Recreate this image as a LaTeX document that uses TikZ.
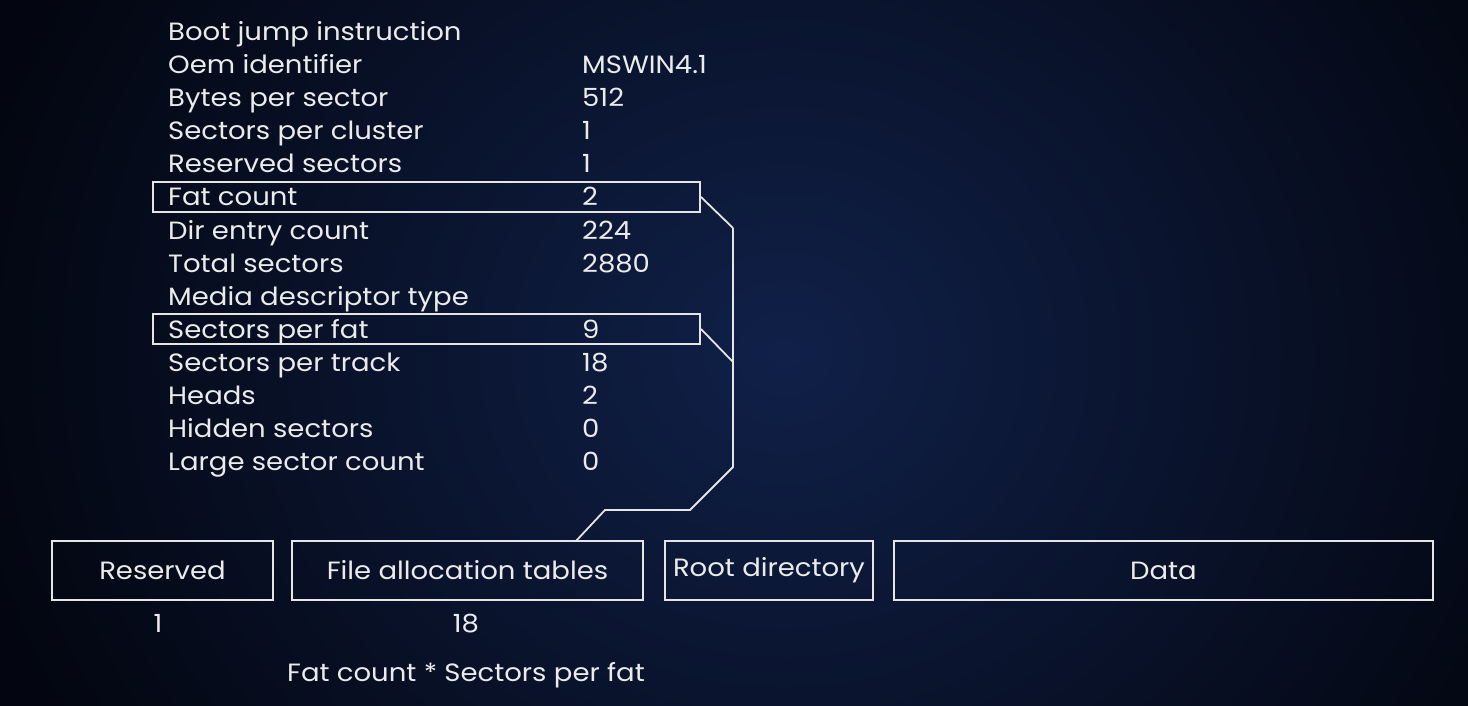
\documentclass[tikz,border=0pt]{standalone}
\usepackage{fontspec}
\setmainfont[FakeStretch=1.1]{Poppins}
\begin{document}
\begin{tikzpicture}[x=1pt,y=-1pt,
  lbl/.style={anchor=base west, inner sep=0pt, text=white!92!black, font=\fontsize{25}{25}\selectfont},
  val/.style={lbl},
  hbox/.style={draw=white!90!black, line width=2pt, minimum width=547pt, minimum height=30pt, inner sep=0pt},
  part/.style={draw=white!90!black, line width=2pt, inner sep=0pt, minimum height=59pt, text=white!92!black, font=\fontsize{25}{25}\selectfont},
  conn/.style={draw=white!90!black, line width=1.8pt},
  ctext/.style={anchor=base, inner sep=0pt, text=white!92!black, font=\fontsize{25}{25}\selectfont}]
\definecolor{bgin}{RGB}{16,32,72}
\definecolor{bgout}{RGB}{3,6,16}
\useasboundingbox (0,0) rectangle (1468,706);
\begin{scope}
\clip (0,0) rectangle (1468,706);
\shade[inner color=bgin, outer color=bgout] (-50,-400) rectangle (1618,1106);
\end{scope}
% rows
\node[lbl] (l1) at (168,41) {Boot jump instruction};
\node[lbl] (l2) at (168,74) {Oem identifier};
\node[lbl] (l3) at (168,107) {Bytes per sector};
\node[lbl] (l4) at (168,140) {Sectors per cluster};
\node[lbl] (l5) at (168,173) {Reserved sectors};
\node[lbl] (l6) at (168,206) {Fat count};
\node[lbl] (l7) at (168,239) {Dir entry count};
\node[lbl] (l8) at (168,272) {Total sectors};
\node[lbl] (l9) at (168,305) {Media descriptor type};
\node[lbl] (l10) at (168,338) {Sectors per fat};
\node[lbl] (l11) at (168,371) {Sectors per track};
\node[lbl] (l12) at (168,404) {Heads};
\node[lbl] (l13) at (168,437) {Hidden sectors};
\node[lbl] (l14) at (168,470) {Large sector count};
\node[val] (v2) at (582,74) {MSWIN4.1};
\node[val] (v3) at (582,107) {512};
\node[val] (v4) at (582,140) {1};
\node[val] (v5) at (582,173) {1};
\node[val] (v6) at (582,206) {2};
\node[val] (v7) at (582,239) {224};
\node[val] (v8) at (582,272) {2880};
\node[val] (v10) at (582,338) {9};
\node[val] (v11) at (582,371) {18};
\node[val] (v12) at (582,404) {2};
\node[val] (v13) at (582,437) {0};
\node[val] (v14) at (582,470) {0};
% highlight boxes
\node[hbox] (fcbox) at (426.5,197) {};
\node[hbox] (spfbox) at (426.5,329) {};
% bottom parts
\node[part, minimum width=221pt] (res) at (162.5,570.5) {Reserved};
\node[part, minimum width=351pt] (fat) at (467.5,570.5) {File allocation tables};
\node[part, minimum width=208pt] (root) at (769,570.5) {Root directory};
\node[part, minimum width=539pt] (data) at (1163.5,570.5) {Data};
\node[ctext] (n1) at (158,632) {1};
\node[ctext] (n18) at (466,632) {18};
\node[ctext] (formula) at (466,681) {Fat count * Sectors per fat};
% connector
\coordinate (j1) at (733,228);
\coordinate (j2) at (733,362);
\coordinate (j3) at (733,467);
\coordinate (j4) at (690,510);
\coordinate (j5) at (605,510);
\coordinate (j6) at (576,541);
\draw[conn] (fcbox.east) -- (j1);
\draw[conn] (spfbox.east) -- (j2);
\draw[conn, line join=miter] (j1) -- (j3) -- (j4) -- (j5) -- (j6);
\end{tikzpicture}
\end{document}
